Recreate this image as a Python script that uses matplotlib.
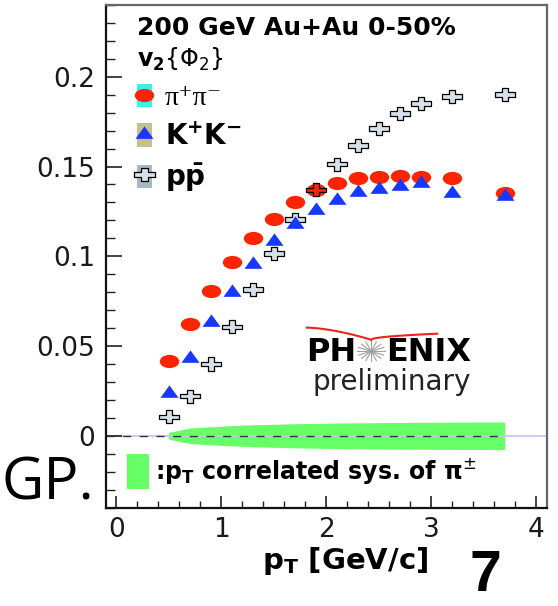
import numpy as np
import matplotlib
matplotlib.use("Agg")
import matplotlib.pyplot as plt
from matplotlib.path import Path
from matplotlib.patches import Rectangle
from matplotlib.ticker import FixedLocator, MultipleLocator

# v2{Phi2} vs pT, 200 GeV Au+Au 0-50%
pt = [0.5, 0.7, 0.9, 1.1, 1.3, 1.5, 1.7, 1.9, 2.1, 2.3, 2.5, 2.7, 2.9, 3.2, 3.7]
v2_pion = [0.0418, 0.0624, 0.0806, 0.0966, 0.110, 0.121, 0.130, 0.137,
           0.141, 0.1437, 0.1443, 0.1447, 0.1443, 0.1437, 0.1354]
v2_kaon = [0.024, 0.0431, 0.0635, 0.0802, 0.0957, 0.1086, 0.118, 0.126,
           0.1315, 0.136, 0.1373, 0.139, 0.141, 0.1354, 0.1335]
v2_proton = [0.0106, 0.0221, 0.040, 0.0607, 0.0816, 0.1016, 0.1206, 0.137,
             0.1513, 0.1616, 0.1712, 0.1796, 0.1852, 0.1889, 0.1902]
# pT correlated systematic of pions (half width around zero)
sys_pion = [0.0019, 0.0043, 0.0050, 0.0056, 0.0061, 0.0064, 0.0067, 0.0069,
            0.0071, 0.0072, 0.0073, 0.0074, 0.0075, 0.0076, 0.0077]

x_ticks = [0, 1, 2, 3, 4]
x_labels = ["0", "1", "2", "3", "4"]
y_ticks = [0, 0.05, 0.1, 0.15, 0.2]
y_labels = ["0", "0.05", "0.1", "0.15", "0.2"]

labels = ["π⁺π⁻", r"$\mathbf{K^{+}K^{-}}$", r"$\mathbf{p\bar{p}}$"]
title = "200 GeV Au+Au 0-50%"
subtitle = r"$\mathbf{v_{2}}\{\Phi_{2}\}$"
sys_label = r":$\mathbf{p_{T}}$ correlated sys. of π$^{\pm}$"

RED = "#ff2400"
BLUE = "#1638ff"
GREEN = "#66ff66"
PFILL = "#d6e0e8"

# markers are a bit wider than tall
ellipse = Path.unit_circle().transformed(matplotlib.transforms.Affine2D().scale(1.0, 0.68))
triangle = Path([(-1, -0.48), (1, -0.48), (0, 0.9), (-1, -0.48)],
                [Path.MOVETO, Path.LINETO, Path.LINETO, Path.CLOSEPOLY])
cv = [(-1, -0.22), (-0.3, -0.22), (-0.3, -0.65), (0.3, -0.65), (0.3, -0.22),
      (1, -0.22), (1, 0.22), (0.3, 0.22), (0.3, 0.65), (-0.3, 0.65),
      (-0.3, 0.22), (-1, 0.22), (-1, -0.22)]
cross = Path(cv, [Path.MOVETO] + [Path.LINETO] * 11 + [Path.CLOSEPOLY])

plt.rcParams["font.family"] = ["DejaVu Sans"]

fig = plt.figure(figsize=(5.58, 6.06), dpi=100)
ax = fig.add_axes([0.1894, 0.1624, 0.7903, 0.8294])
ax.set_xlim(-0.1, 4.1)
ax.set_ylim(-0.04, 0.24)

# systematic band and zero line
x = np.array(pt)
s = np.array(sys_pion)
band = ax.fill_between(x, -s, s, color=GREEN, lw=0, zorder=1)
ax.axhline(0, color="#c4c4ee", lw=1.2, zorder=1.5)
ax.hlines(0, -0.1, x[-1], colors="#333333", lw=1.0,
          linestyles=(0, (5.8, 6.2)), zorder=2)

# data points
p_face = np.where(np.isclose(v2_proton, v2_pion, atol=1e-3), RED, PFILL)
h_p = ax.scatter(pt, v2_proton, s=14.5 ** 2, marker=cross, facecolors=p_face,
                 edgecolors="black", linewidths=0.9, zorder=3)
h_pi, = ax.plot(pt, v2_pion, ls="none", marker=ellipse, ms=14, mfc=RED,
                mec=RED, mew=0, zorder=2.5)
h_k, = ax.plot(pt, v2_kaon, ls="none", marker=triangle, ms=13, mfc=BLUE,
               mec=BLUE, mew=0, zorder=4)

# axes styling
ax.xaxis.set_major_locator(FixedLocator(x_ticks))
ax.set_xticklabels(x_labels)
ax.xaxis.set_minor_locator(MultipleLocator(0.2))
ax.yaxis.set_major_locator(FixedLocator(y_ticks))
ax.set_yticklabels(y_labels)
ax.yaxis.set_minor_locator(MultipleLocator(0.01))
ax.tick_params(axis="both", which="both", direction="in", top=False,
               right=False, colors="#222222", labelsize=19, labelcolor="#1a1a1a")
ax.tick_params(axis="y", which="major", length=11.5, width=1.2, pad=7.5)
ax.tick_params(axis="y", which="minor", length=6.5, width=1.0)
ax.tick_params(axis="x", which="major", length=8.6, width=1.2, pad=7)
ax.tick_params(axis="x", which="minor", length=4.7, width=1.0)
for side in ("left", "bottom"):
    ax.spines[side].set_color("#111111")
    ax.spines[side].set_linewidth(1.6)
for side in ("top", "right"):
    ax.spines[side].set_color("#666666")
    ax.spines[side].set_linewidth(1.6)

ax.set_xlabel(r"$\mathbf{p_{T}}$ [GeV/c]", fontsize=21, fontweight="bold")
ax.xaxis.set_label_coords(0.5426, -0.074)

# header and species legend
ax.text(0.071, 0.940, title, transform=ax.transAxes, fontsize=18,
        fontweight="bold", va="baseline")
ax.text(0.071, 0.877, subtitle, transform=ax.transAxes, fontsize=17,
        va="baseline")

box_pi = Rectangle((0, 0), 1, 1, fc="#3cf0f0", ec="none")
box_k = Rectangle((0, 0), 1, 1, fc="#c8c08c", ec="none")
box_p = Rectangle((0, 0), 1, 1, fc="#a8b9c6", ec="none")
leg = ax.legend([(box_pi, h_pi), (box_k, h_k), (box_p, h_p)], labels,
                loc="upper left", bbox_to_anchor=(0.071, 0.842),
                frameon=False, fontsize=20, numpoints=1, scatterpoints=1,
                scatteryoffsets=[0.5], handlelength=0.54, handleheight=0.9,
                handletextpad=0.47, labelspacing=0.4, borderpad=0,
                borderaxespad=0)
leg.get_texts()[0].set_fontfamily(["Liberation Serif", "DejaVu Serif"])
ax.add_artist(leg)

sys_leg = ax.legend([band], [sys_label], loc="center left",
                    bbox_to_anchor=(0.048, 0.0718), frameon=False,
                    handlelength=0.93, handleheight=1.9, handletextpad=0.25,
                    borderpad=0, borderaxespad=0,
                    prop={"size": 17, "weight": "bold"})

# PHENIX preliminary label
ax.text(0.568, 0.292, "PH", transform=ax.transAxes, fontsize=23,
        fontweight="bold", ha="right", va="baseline")
ax.text(0.636, 0.292, "ENIX", transform=ax.transAxes, fontsize=23,
        fontweight="bold", ha="left", va="baseline")
ax.text(0.648, 0.233, "preliminary", transform=ax.transAxes, fontsize=20,
        ha="center", va="baseline", color="#222222")
cx, cy = 0.602, 0.311
for a in np.linspace(0, np.pi, 9)[:-1]:
    ax.plot([cx - 0.031 * np.cos(a), cx + 0.031 * np.cos(a)],
            [cy - 0.02 * np.sin(a), cy + 0.02 * np.sin(a)],
            transform=ax.transAxes, color="#a0a0a0", lw=0.8, zorder=5)
arc_l = np.linspace(0, 1, 30)
ax.plot(0.456 + 0.146 * arc_l, 0.358 - 0.024 * arc_l ** 1.6,
        transform=ax.transAxes, color="#e8261c", lw=1.5)
ax.plot(0.602 + 0.15 * arc_l, 0.334 + 0.012 * arc_l ** 0.5,
        transform=ax.transAxes, color="#e8261c", lw=1.5)

# slide leftovers around the plot
fig.text(0.002, 0.175, "GP.", fontsize=42, family=["Open Sans", "DejaVu Sans"],
         va="baseline", ha="left")
fig.text(0.842, 0.024, "7", fontsize=41, family=["Liberation Sans", "DejaVu Sans"],
         fontweight="bold", va="baseline", ha="left")

fig.savefig("out.png", dpi=100)
